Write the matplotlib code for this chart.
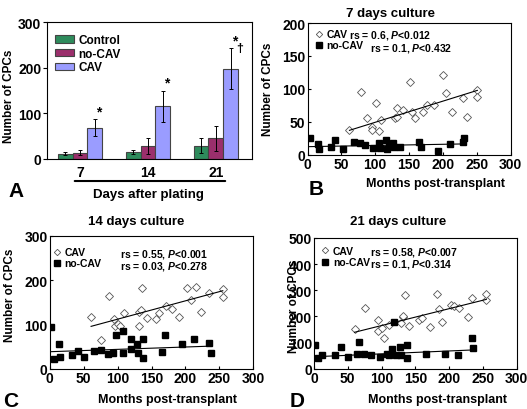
import numpy as np
import matplotlib
matplotlib.use('Agg')
import matplotlib.pyplot as plt

plt.rcParams['font.family'] = ['Liberation Sans', 'DejaVu Sans']
plt.rcParams['font.weight'] = 'bold'
plt.rcParams['mathtext.fontset'] = 'custom'
plt.rcParams['mathtext.it'] = 'Liberation Sans:italic:bold'
plt.rcParams['mathtext.rm'] = 'Liberation Sans:bold'

# panel A: bar chart
days = ['7', '14', '21']
groups = ['Control', 'no-CAV', 'CAV']
means = {'Control': [12, 15, 29], 'no-CAV': [14, 28, 45], 'CAV': [69, 116, 198]}
errs = {'Control': [4, 5, 16], 'no-CAV': [5, 18, 27], 'CAV': [18, 34, 45]}
bar_colors = {'Control': '#2e8b5c', 'no-CAV': '#9b2f6c', 'CAV': '#9a9cff'}

# panel B: 7 days culture
b_cav_x = [62, 79, 88, 95, 95, 101, 105, 109, 129, 132, 133, 141, 152, 155, 159,
           170, 177, 187, 200, 205, 213, 230, 235, 250, 251]
b_cav_y = [37, 95, 56, 42, 37, 79, 36, 53, 55, 58, 71, 68, 111, 65, 55,
           65, 76, 75, 121, 93, 65, 86, 57, 99, 88]
b_no_x = [3, 15, 17, 35, 41, 53, 68, 77, 85, 97, 106, 107, 116, 118, 120,
          127, 128, 137, 165, 168, 193, 211, 230, 232]
b_no_y = [25, 16, 8, 11, 22, 9, 20, 18, 15, 10, 18, 10, 22, 8, 14,
          18, 11, 12, 20, 11, 6, 16, 19, 25]

# panel C: 14 days culture
c_cav_x = [61, 75, 88, 95, 96, 101, 103, 110, 131, 131, 134, 136, 143, 156, 161,
           172, 180, 191, 203, 208, 216, 223, 234, 255, 255]
c_cav_y = [116, 65, 164, 113, 96, 102, 96, 126, 96, 129, 133, 182, 114, 112, 126,
           141, 134, 116, 182, 155, 185, 129, 171, 179, 161]
c_no_x = [2, 7, 13, 15, 33, 41, 50, 66, 75, 86, 93, 97, 108, 108, 120, 120, 128,
          130, 138, 138, 166, 170, 195, 213, 234, 237]
c_no_y = [95, 22, 57, 27, 32, 40, 28, 40, 42, 34, 36, 77, 86, 37, 68, 45, 57,
          36, 68, 25, 39, 76, 56, 68, 59, 37]

# panel D: 21 days culture
d_cav_x = [60, 76, 94, 95, 100, 104, 111, 129, 131, 132, 134, 141, 156, 160, 171,
           182, 185, 190, 203, 207, 215, 228, 234, 254, 255]
d_cav_y = [152, 231, 187, 143, 155, 118, 165, 174, 197, 200, 282, 161, 184, 195, 159,
           285, 228, 180, 243, 241, 233, 197, 269, 262, 284]
d_no_x = [1, 6, 12, 31, 40, 51, 63, 67, 74, 85, 97, 108, 111, 115, 119, 122, 127,
          129, 137, 137, 166, 194, 213, 234, 235]
d_no_y = [89, 42, 51, 51, 84, 43, 55, 101, 57, 50, 45, 54, 51, 74, 178, 51, 84,
          51, 89, 39, 54, 54, 50, 118, 77]

# regression lines as drawn in the figure (slope, intercept)
b_fit = [(0.321, 17.1), (0.018, 12.2)]
c_fit = [(0.413, 70.8), (0.053, 38.9)]
d_fit = [(0.646, 100.0), (0.111, 45.0)]

stats = {
    'B': ('rs = 0.6, $\\it{P}$<0.012', 'rs = 0.1, $\\it{P}$<0.432'),
    'C': ('rs = 0.55, $\\it{P}$<0.001', 'rs = 0.03, $\\it{P}$<0.278'),
    'D': ('rs = 0.58, $\\it{P}$<0.007', 'rs = 0.1, $\\it{P}$<0.314'),
}

W, H = 527, 410
fig = plt.figure(figsize=(W / 100, H / 100), dpi=100)


def box(l, t, r, b):
    return [l / W, 1 - b / H, (r - l) / W, (b - t) / H]


# ---- A ----
axA = fig.add_axes(box(46.7, 23.3, 252, 160))
x = np.arange(len(days))
bw = 0.22
for k, g in enumerate(groups):
    axA.bar(x + (k - 1) * bw, means[g], bw, yerr=errs[g], color=bar_colors[g],
            edgecolor='#444444', linewidth=0.8, label=g,
            error_kw=dict(ecolor='black', elinewidth=0.7, capsize=1.5, capthick=0.7))
for i in range(3):
    top = means['CAV'][i] + errs['CAV'][i]
    axA.text(x[i] + bw + 0.05, top + 2, '*', ha='center', va='bottom', fontsize=10)
axA.text(x[2] + bw + 0.13, means['CAV'][2] + errs['CAV'][2] - 12, '†',
         ha='center', va='bottom', fontsize=9)
axA.set_xlim(-0.49, 2.53)
axA.set_ylim(0, 300)
axA.set_yticks([0, 100, 200, 300])
axA.set_xticks(x)
axA.set_xticklabels(days)
axA.tick_params(axis='x', length=0, labelsize=10, pad=4)
axA.tick_params(axis='y', length=3, labelsize=10, pad=1)
axA.legend(loc='upper left', bbox_to_anchor=(0.04, 0.915), frameon=False,
           fontsize=8.5, handlelength=1.6, handleheight=0.6, handletextpad=0.4,
           labelspacing=0.15, borderpad=0, borderaxespad=0)
axA.annotate('', xy=(0.123, -0.161), xytext=(0.883, -0.161), xycoords='axes fraction',
             arrowprops=dict(arrowstyle='-', lw=1.5, color='black'))
fig.text(148 / W, 1 - 195 / H, 'Days after plating', ha='center', va='center', fontsize=9.5)
fig.text(9 / W, 1 - 96 / H, 'Number of CPCs', rotation=90, ha='center', va='center', fontsize=8.5)
fig.text(8 / W, 1 - 197 / H, 'A', fontsize=15, va='baseline')


# ---- scatter panels ----
def scatter_panel(rect, cx, cy, nx, ny, fits, ymax, ystep, title, tpos, st, leg, sx, ylab, xlab, letter):
    ax = fig.add_axes(rect)
    ax.plot(cx, cy, linestyle='none', marker='D', markersize=3.6, markerfacecolor='white',
            markeredgecolor='#555555', markeredgewidth=0.6, label='CAV')
    ax.plot(nx, ny, linestyle='none', marker='s', markersize=4.6, color='black', label='no-CAV')
    for (xs, ys), (m, b0) in zip(((cx, cy), (nx, ny)), fits):
        xx = np.array([min(xs), max(xs)])
        ax.plot(xx, np.polyval([m, b0], xx), color='black', lw=0.8)
    ax.set_xlim(0, 300)
    ax.set_ylim(0, ymax)
    ax.set_xticks(np.arange(0, 301, 50))
    ax.set_yticks(np.arange(0, ymax + 1, ystep))
    ax.tick_params(direction='in', length=2, labelsize=10, pad=1.5)
    for s in ax.spines.values():
        s.set_linewidth(0.8)
    ax.legend(loc='upper left', bbox_to_anchor=leg, frameon=False, fontsize=7.5,
              handlelength=0.8, handleheight=0.5, handletextpad=0.35, labelspacing=0.1,
              borderpad=0, borderaxespad=0, markerscale=0.9)
    ax.text(sx[0], sx[1], st[0], transform=ax.transAxes, fontsize=7.5, va='center')
    ax.text(sx[2], sx[3], st[1], transform=ax.transAxes, fontsize=7.5, va='center')
    fig.text(tpos[0] / W, 1 - tpos[1] / H, title, ha='center', va='center', fontsize=9.5)
    fig.text(ylab[0] / W, 1 - ylab[1] / H, 'Number of CPCs', rotation=90,
             ha='center', va='center', fontsize=8.5)
    fig.text(xlab[0] / W, 1 - xlab[1] / H, 'Months post-transplant',
             ha='center', va='center', fontsize=9)
    fig.text(letter[1] / W, 1 - letter[2] / H, letter[0], fontsize=15, va='baseline')
    return ax


scatter_panel(box(307.5, 24, 510.5, 155.7), b_cav_x, b_cav_y, b_no_x, b_no_y, b_fit, 200, 50,
              '7 days culture', (390, 14), stats['B'], (0.035, 0.955), (0.205, 0.91, 0.31, 0.815),
              (268, 89), (435, 184), ('B', 309, 195))
scatter_panel(box(49.7, 236.7, 253.3, 370), c_cav_x, c_cav_y, c_no_x, c_no_y, c_fit, 300, 100,
              '14 days culture', (136, 222), stats['C'], (0.015, 0.915), (0.345, 0.868, 0.345, 0.78),
              (10, 295), (168, 400), ('C', 3, 407))
scatter_panel(box(314, 239, 516.7, 369.5), d_cav_x, d_cav_y, d_no_x, d_no_y, d_fit, 500, 100,
              '21 days culture', (398, 222), stats['D'], (0.035, 0.94), (0.276, 0.895, 0.276, 0.806),
              (294, 306), (437, 400), ('D', 290, 407))

fig.savefig('out.png', dpi=100)
